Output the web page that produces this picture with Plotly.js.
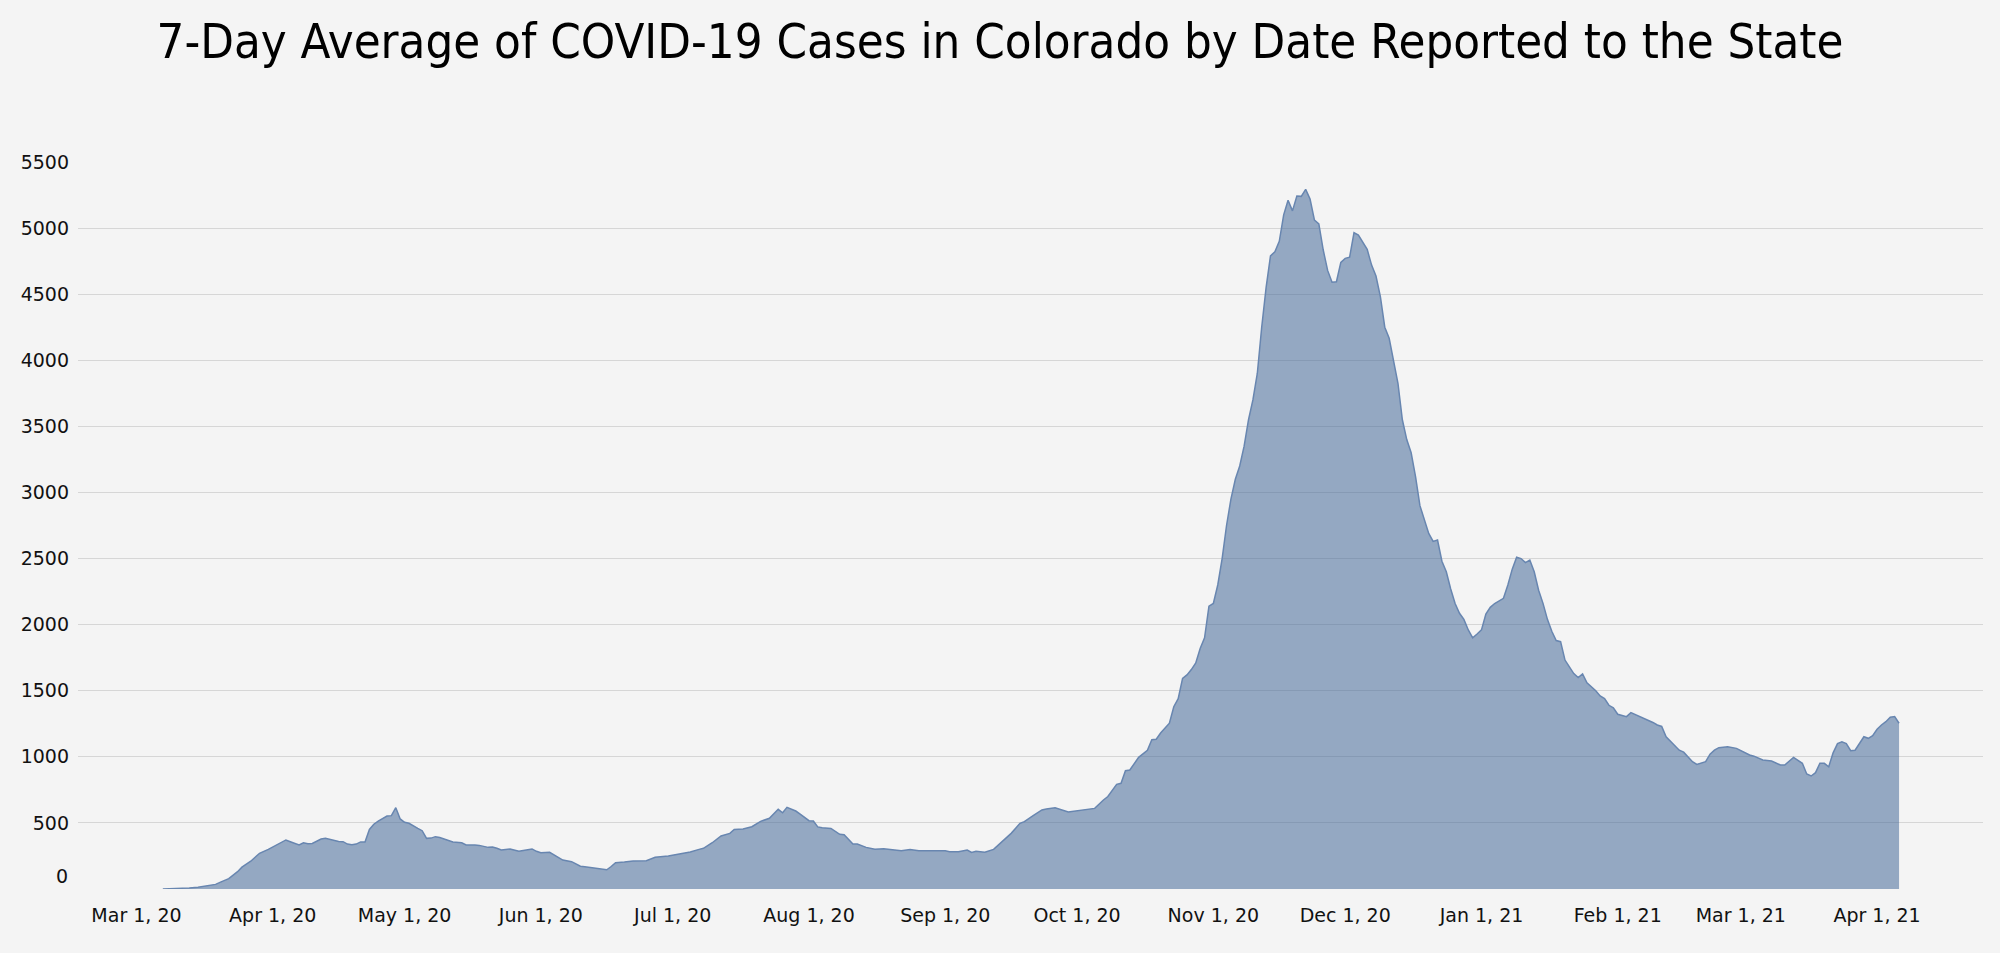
<!DOCTYPE html>
<html>
<head>
<meta charset="utf-8">
<script src="https://cdn.plot.ly/plotly-3.0.1.min.js"></script>
<style>
  html, body { margin: 0; padding: 0; background: #f4f4f4; }
  #chart { width: 2000px; height: 953px; }
</style>
</head>
<body>
<div id="chart"></div>
<script>
// ---- Data ----
const startDate = '2020-03-01';   // day 0 of the offsets below

// days since 2020-03-01 at which values were read
const dayOffsets = [
  6, 8, 10, 12, 14, 16, 18, 19, 21, 23, 24, 26, 28, 30, 31, 32, 34, 35, 36, 37, 38, 39, 40,
  42, 43, 44, 46, 47, 48, 49, 50, 51, 52, 53, 54, 55, 56, 57, 58, 59, 60, 61, 62, 63, 64, 65,
  66, 67, 68, 69, 70, 71, 72, 74, 75, 77, 78, 80, 81, 82, 83, 85, 87, 88, 90, 91, 92, 94, 95,
  97, 99, 101, 102, 104, 106, 107, 108, 109, 111, 113, 116, 118, 121, 122, 124, 126, 128, 129,
  131, 133, 135, 136, 138, 140, 142, 144, 146, 147, 148, 150, 151, 153, 154, 155, 156, 158,
  160, 161, 163, 164, 166, 168, 170, 172, 174, 176, 178, 180, 182, 184, 185, 187, 189, 190,
  191, 193, 195, 197, 199, 201, 202, 204, 206, 207, 209, 212, 215, 217, 218, 220, 221, 223,
  224, 225, 226, 228, 230, 231, 232, 233, 235, 236, 237, 238, 239, 240, 241, 242, 243, 244,
  245, 246, 247, 248, 249, 250, 251, 252, 253, 254, 255, 256, 257, 258, 259, 260, 261, 262,
  263, 264, 265, 266, 267, 268, 269, 270, 271, 272, 273, 274, 275, 276, 277, 278, 279, 280,
  281, 282, 283, 284, 285, 286, 287, 288, 289, 290, 291, 292, 293, 294, 295, 296, 297, 298,
  299, 300, 301, 302, 303, 304, 305, 306, 307, 308, 309, 310, 311, 312, 313, 314, 315, 316,
  317, 318, 319, 320, 321, 322, 323, 324, 325, 326, 327, 328, 329, 330, 331, 332, 333, 334,
  335, 336, 337, 339, 340, 342, 344, 345, 346, 347, 348, 350, 351, 352, 353, 354, 355, 357,
  358, 359, 360, 362, 364, 366, 367, 368, 370, 372, 374, 375, 377, 379, 380, 381, 382, 383,
  384, 385, 386, 387, 388, 389, 390, 391, 392, 393, 394, 395, 396, 397, 398, 399, 400, 401
];

// 7-day average of cases
const avgCases = [
  0, 1, 3, 8, 14, 22, 35, 50, 78, 131, 165, 210, 270, 300, 318, 340, 371, 358, 348, 333, 350, 343, 345,
  378, 384, 376, 360, 358, 340, 335, 340, 356, 355, 451, 490, 514, 530, 552, 555, 615, 530, 505, 497, 475, 459, 441,
  383, 385, 396, 390, 378, 368, 356, 350, 333, 332, 330, 315, 318, 308, 295, 303, 285, 292, 303, 285, 275, 278, 257,
  219, 207, 172, 168, 161, 150, 145, 170, 199, 204, 212, 214, 240, 250, 255, 270, 280, 300, 308,
  350, 401, 421, 451, 454, 471, 512, 535, 603, 577, 618, 590, 567, 517, 515, 470, 464, 458,
  414, 410, 340, 340, 315, 300, 305, 300, 290, 298, 290, 290, 288, 290, 282, 282, 295, 276,
  285, 278, 300, 358, 421, 497, 510, 555, 598, 605, 615, 582, 595, 600, 610, 673, 700, 792,
  800, 895, 900, 996, 1050, 1130, 1133, 1180, 1254, 1379, 1440, 1594, 1620, 1660, 1710, 1820, 1900, 2140,
  2160, 2300, 2500, 2750, 2950, 3100, 3200, 3350, 3550, 3700, 3900, 4250, 4550, 4790, 4821, 4900, 5100, 5210,
  5130, 5243, 5240, 5293, 5220, 5060, 5031, 4834, 4680, 4590, 4594, 4741, 4771, 4780, 4965, 4947, 4897, 4839,
  4720, 4637, 4481, 4250, 4166, 4000, 3826, 3550, 3400, 3300, 3120, 2900, 2790, 2690, 2630, 2640, 2480, 2400,
  2270, 2160, 2086, 2040, 1960, 1900, 1929, 1960, 2080, 2131, 2160, 2181, 2199, 2300, 2420, 2510, 2500, 2469,
  2489, 2400, 2260, 2161, 2040, 1950, 1880, 1871, 1732, 1680, 1630, 1600, 1627, 1560, 1531, 1500, 1460, 1440,
  1390, 1370, 1322, 1304, 1334, 1304, 1280, 1260, 1241, 1230, 1152, 1089, 1050, 1035, 1000, 963, 943, 963,
  1020, 1050, 1069, 1076, 1064, 1030, 1014, 1005, 976, 968, 938, 938, 996, 951, 870, 855, 880, 951,
  951, 925, 1030, 1100, 1114, 1100, 1046, 1050, 1100, 1152, 1140, 1160, 1208, 1241, 1266, 1299, 1304, 1254
];

// axis ticks
const xTickVals = ['2020-03-01', '2020-04-01', '2020-05-01', '2020-06-01', '2020-07-01', '2020-08-01',
  '2020-09-01', '2020-10-01', '2020-11-01', '2020-12-01', '2021-01-01', '2021-02-01', '2021-03-01', '2021-04-01'];
const xTickText = ['Mar 1, 20', 'Apr 1, 20', 'May 1, 20', 'Jun 1, 20', 'Jul 1, 20', 'Aug 1, 20',
  'Sep 1, 20', 'Oct 1, 20', 'Nov 1, 20', 'Dec 1, 20', 'Jan 1, 21', 'Feb 1, 21', 'Mar 1, 21', 'Apr 1, 21'];
const yTickVals = [0, 500, 1000, 1500, 2000, 2500, 3000, 3500, 4000, 4500, 5000, 5500];
const yTickText = ['0', '500', '1000', '1500', '2000', '2500', '3000', '3500', '4000', '4500', '5000', '5500'];

const chartTitle = '7-Day Average of COVID-19 Cases in Colorado by Date Reported to the State';

// ---- Build ----
function offsetToDate(d) {
  const t0 = Date.parse(startDate + 'T00:00:00Z');
  return new Date(t0 + d * 86400000).toISOString().slice(0, 10);
}
const dates = dayOffsets.map(offsetToDate);

const TITLE_FONT = 'DejaVu Sans Condensed, DejaVu Sans, sans-serif';
const TICK_FONT = 'DejaVu Sans, sans-serif';

const trace = {
  type: 'scatter',
  mode: 'lines',
  x: dates,
  y: avgCases,
  fill: 'tozeroy',
  fillcolor: 'rgba(70,106,153,0.55)',
  line: { color: 'rgb(104,134,176)', width: 1.5 },
  hoverinfo: 'x+y'
};

const layout = {
  width: 2000,
  height: 953,
  paper_bgcolor: '#f4f4f4',
  plot_bgcolor: '#f4f4f4',
  showlegend: false,
  margin: { l: 78, r: 17, t: 162, b: 64, pad: 0 },
  title: {
    text: chartTitle,
    font: { family: TITLE_FONT, size: 48.7, color: '#000' },
    x: 0.5, xanchor: 'center', xref: 'container',
    y: 1 - 41 / 953, yanchor: 'middle', yref: 'container'
  },
  xaxis: {
    type: 'date',
    range: ['2020-02-16 16:48', '2021-04-25 02:24'],
    tickmode: 'array',
    tickvals: xTickVals,
    ticktext: xTickText,
    showgrid: false,
    zeroline: false,
    showline: false,
    ticks: '',
    ticklabelstandoff: 13,
    tickfont: { family: TICK_FONT, size: 19, color: '#111' },
    fixedrange: true
  },
  yaxis: {
    range: [0, 5500],
    tickmode: 'array',
    tickvals: yTickVals.slice(1),
    ticktext: yTickText.slice(1),
    showgrid: true,
    gridcolor: '#d6d6d6',
    gridwidth: 1.2,
    zeroline: false,
    showline: false,
    ticks: '',
    ticklabelstandoff: 8,
    tickfont: { family: TICK_FONT, size: 19, color: '#111' },
    fixedrange: true
  },
  annotations: [{
    xref: 'paper', x: 0, xanchor: 'right', xshift: -8,
    yref: 'y', y: yTickVals[0], yanchor: 'middle', yshift: 13,
    text: yTickText[0], showarrow: false,
    font: { family: TICK_FONT, size: 19, color: '#111' }
  }]
};

Plotly.newPlot('chart', [trace], layout, { displayModeBar: false });
</script>
</body>
</html>
